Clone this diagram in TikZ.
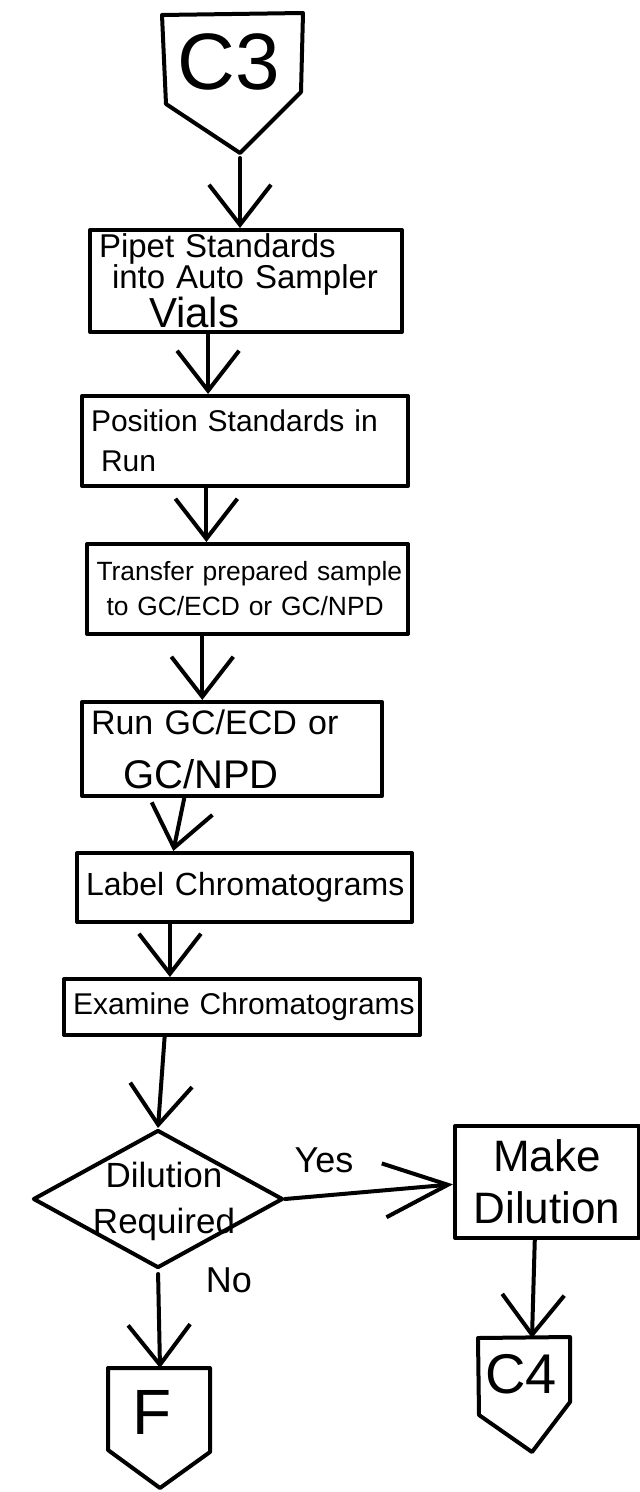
\documentclass[tikz,border=0pt]{standalone}
\usepackage{fontspec}
\setmainfont{Liberation Sans}
\usetikzlibrary{arrows.meta,shapes.geometric,calc}
\begin{document}
\begin{tikzpicture}[x=0.5pt,y=-0.5pt,
  ink/.style={line width=2pt,line join=round,line cap=round},
  stepbox/.style={ink,draw,rectangle,anchor=north west,inner xsep=4.5pt,inner ysep=0pt,align=left},
  conn/.style={ink,-{Straight Barb[length=20pt,width=31pt,line width=2pt]}},
  yesconn/.style={ink,-{Straight Barb[length=32pt,width=27pt,line width=2pt]}},
  decision/.style={ink,draw,diamond,inner sep=0pt,minimum width=125pt,minimum height=69pt},
  lbl/.style={inner sep=0pt}
]
\useasboundingbox (0,0) rectangle (639,1492);

% off-page connector C3
\draw[ink] (162,15) -- (303,13) -- (301,92) -- (240,153) -- (166,104) -- cycle;
\coordinate (c3tip) at (240,153);
\node[lbl,font=\fontsize{40}{40}\selectfont] (c3) at (229,62) {C3};

% process steps
\node[stepbox,minimum width=156pt,minimum height=51pt,text width=147pt,
  font=\fontsize{16.5}{15.5}\selectfont] (b1) at (88,228)
  {\mbox{Pipet Standards}\\\mbox{\hspace*{6.5pt}into Auto Sampler}\\\mbox{\hspace*{25pt}\fontsize{21}{16}\selectfont Vials}};
\node[stepbox,minimum width=163pt,minimum height=45pt,text width=154pt,
  font=\fontsize{15}{20}\selectfont] (b2) at (80,394)
  {\mbox{Position Standards in}\\\mbox{\hspace*{5pt}Run}};
\node[stepbox,minimum width=160.5pt,minimum height=45pt,text width=151pt,
  font=\fontsize{13.2}{17.5}\selectfont] (b3) at (85,542)
  {\mbox{Transfer prepared sample}\\\mbox{\hspace*{5pt}to GC/ECD or GC/NPD}};
\node[stepbox,minimum width=150pt,minimum height=47pt,text width=141pt,
  font=\fontsize{17}{27}\selectfont] (b4) at (80,700)
  {\mbox{Run GC/ECD or}\\\mbox{\hspace*{16pt}\fontsize{20}{27}\selectfont GC/NPD}};
\node[stepbox,minimum width=167.5pt,minimum height=34.5pt,text width=158.5pt,
  font=\fontsize{16}{20}\selectfont] (b5) at (75,851)
  {\mbox{Label Chromatograms}};
\node[stepbox,minimum width=178pt,minimum height=28pt,text width=169pt,
  font=\fontsize{15}{18}\selectfont] (b6) at (62,977)
  {\mbox{Examine Chromatograms}};

% decision
\node[decision] (dec) at (158,1199) {};
\node[lbl,align=center,font=\fontsize{17.5}{23}\selectfont] (dectext) at ($(dec.center)+(6,2)$)
  {Dilution\\Required};

% dilution branch
\node[stepbox,minimum width=92pt,minimum height=56pt,text width=83pt,align=center,
  font=\fontsize{22}{26}\selectfont] (md) at (453,1124)
  {Make\\Dilution};

% off-page connectors at the bottom
\draw[ink] (108,1368) -- (210,1368) -- (210,1452) -- (160,1488) -- (108,1450) -- cycle;
\coordinate (ftop) at (160,1368);
\node[lbl,font=\fontsize{32}{32}\selectfont] (f) at (152,1412) {F};

\draw[ink] (478,1338) -- (570,1337) -- (570,1402) -- (532,1452) -- (479,1415) -- cycle;
\coordinate (c4top) at (532,1338);
\node[lbl,font=\fontsize{28}{28}\selectfont] (c4) at (521,1374) {C4};

% connectors
\draw[conn,shorten <=2.5pt] (c3tip) -- (c3tip |- b1.north);
\draw[conn] ($(b1.south west)!0.38!(b1.south east)$) coordinate (a2) -- (a2 |- b2.north);
\draw[conn] ($(b2.south west)!0.383!(b2.south east)$) coordinate (a3) -- (a3 |- b3.north);
\draw[conn] ($(b3.south west)!0.361!(b3.south east)$) coordinate (a4) -- (a4 |- b4.north);
\draw[conn] ($(b4.south west)!0.343!(b4.south east)$) -- ($(b5.north west)!0.29!(b5.north east)$);
\draw[conn] ($(b5.south west)!0.28!(b5.south east)$) coordinate (a6) -- (a6 |- b6.north);
\draw[conn] ($(b6.south west)!0.285!(b6.south east)$) -- (dec.north);
\draw[yesconn] (dec.east) -- ($(md.north west)!0.52!(md.south west)$);
\node[lbl,font=\fontsize{18}{18}\selectfont] (yes) at (324,1160) {Yes};
\draw[conn,shorten <=2pt] (dec.south) -- (ftop);
\node[lbl,font=\fontsize{18}{18}\selectfont] (no) at (229,1280) {No};
\draw[conn] ($(md.south west)!0.435!(md.south east)$) -- (c4top);
\end{tikzpicture}
\end{document}
